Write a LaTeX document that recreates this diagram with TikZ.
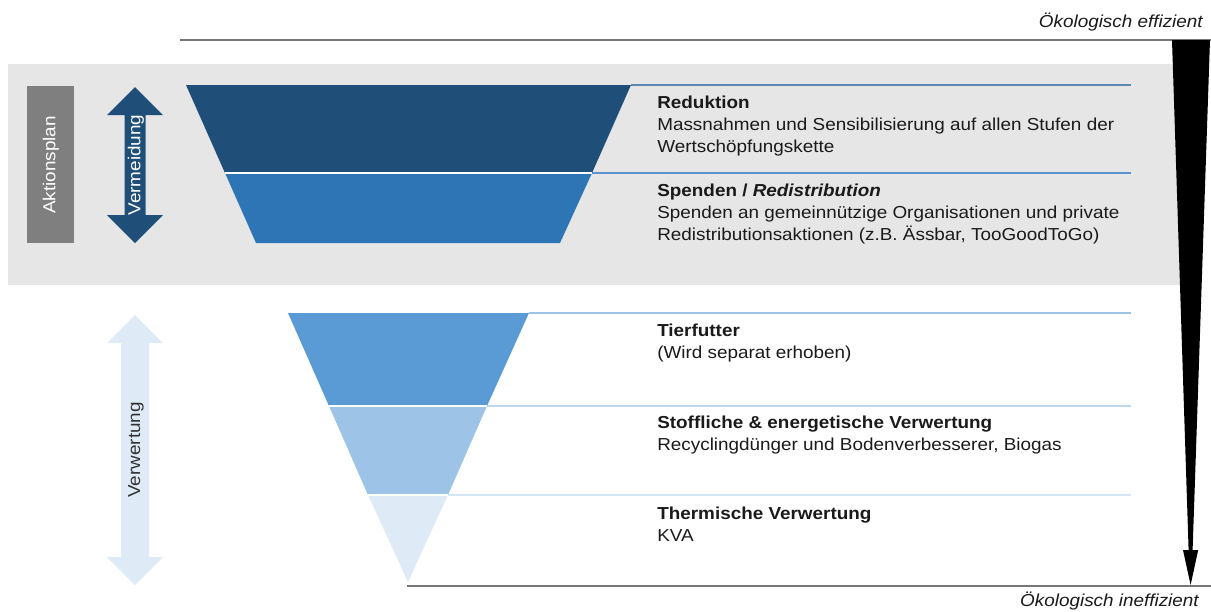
\documentclass[tikz,border=0pt]{standalone}
\usepackage{fontspec}
\setmainfont[FakeStretch=1.09]{Liberation Sans}
\definecolor{bgGray}{HTML}{E6E6E6}
\definecolor{boxGray}{HTML}{7F7F7F}
\definecolor{lineGray}{HTML}{767676}
\definecolor{bDark}{HTML}{1F4E79}
\definecolor{bMid}{HTML}{2E75B6}
\definecolor{bLight}{HTML}{5B9BD5}
\definecolor{bPale}{HTML}{9DC3E6}
\definecolor{bVery}{HTML}{DEEBF7}
\definecolor{lRed}{HTML}{5F88B0}
\definecolor{lSpe}{HTML}{5B93CC}
\definecolor{lTie}{HTML}{9DC3E6}
\definecolor{lSto}{HTML}{BDD7EE}
\definecolor{lThe}{HTML}{D6E6F5}
\definecolor{txt}{HTML}{1A1A1A}
\begin{document}
\begin{tikzpicture}[x=0.75pt,y=-0.75pt,
  txtline/.style={anchor=base west,inner sep=0pt,font=\fontsize{13}{16}\selectfont,text=txt},
  headline/.style={txtline,font=\fontsize{13}{16}\selectfont\bfseries},
  sepline/.style={line width=1.5pt},
  vlabel/.style={rotate=90,inner sep=0pt,font=\fontsize{13}{16}\selectfont}]
\useasboundingbox (0,0) rectangle (1211,611);
% background band
\fill[bgGray] (8,64) rectangle (1190,285);
% top and bottom lines
\draw[lineGray,line width=1.5pt] (180,40) -- (1211,40);
\draw[lineGray,line width=1.5pt] (407,586) -- (1211,586);
\node[anchor=base east,inner sep=0pt,font=\fontsize{13}{16}\selectfont\itshape,text=txt] (eff) at (1203,27) {Ökologisch effizient};
\node[anchor=base east,inner sep=0pt,font=\fontsize{13}{16}\selectfont\itshape,text=txt] (ineff) at (1199,606) {Ökologisch ineffizient};
% separator lines
\draw[sepline,lRed] (631,85) -- (1131,85);
\draw[sepline,lSpe] (592,173) -- (1131,173);
\draw[sepline,lTie] (529,313) -- (1131,313);
\draw[sepline,lSto] (487,406) -- (1131,406);
\draw[sepline,lThe] (448,495) -- (1131,495);
% funnel top
\fill[bDark] (186,85) -- (631,85) -- (592,173) -- (225,173) -- cycle;
\fill[bMid] (225,173) -- (592,173) -- (560,243) -- (256,243) -- cycle;
\draw[white,line width=0.8pt] (225,173) -- (592,173);
% funnel bottom
\fill[bLight] (288,313) -- (529,313) -- (487,406) -- (329,406) -- cycle;
\fill[bPale] (329,406) -- (487,406) -- (448,495) -- (368,495) -- cycle;
\fill[bVery] (368,495) -- (448,495) -- (408,582) -- cycle;
\draw[white,line width=0.8pt] (329,406) -- (487,406);
\draw[white,line width=0.8pt] (368,495) -- (448,495);
% Aktionsplan box
\fill[boxGray] (27,86) rectangle (74,243);
\node[vlabel,text=white] (akt) at (51,165) {Aktionsplan};
% Vermeidung arrow
\fill[bDark] (135,87) -- (163,115) -- (145.5,115) -- (145.5,215) -- (163,215) -- (135,243)
  -- (107,215) -- (124.5,215) -- (124.5,115) -- (107,115) -- cycle;
\node[vlabel,text=white] (verm) at (136,165) {Vermeidung};
% Verwertung arrow
\fill[bVery] (135,315) -- (163,343) -- (149,343) -- (149,557) -- (163,557) -- (135,585)
  -- (107,557) -- (121,557) -- (121,343) -- (107,343) -- cycle;
\node[vlabel,text=black!80] (verw) at (136,450) {Verwertung};
% black wedge arrow
\fill[black] (1172,40) -- (1210,40) -- (1192.6,550) -- (1198.2,550) -- (1190.6,585)
  -- (1183,550) -- (1188.6,550) -- cycle;
% texts
\node[headline] (r1) at (657,108) {Reduktion};
\node[txtline] (r2) at (657,130) {Massnahmen und Sensibilisierung auf allen Stufen der};
\node[txtline] (r3) at (657,152) {Wertschöpfungskette};
\node[headline] (s1) at (657,196) {Spenden / \textit{Redistribution}};
\node[txtline] (s2) at (657,218) {Spenden an gemeinnützige Organisationen und private};
\node[txtline] (s3) at (657,240) {Redistributionsaktionen (z.B. Ässbar, TooGoodToGo)};
\node[headline] (t1) at (657,336) {Tierfutter};
\node[txtline] (t2) at (657,358) {(Wird separat erhoben)};
\node[headline] (e1) at (657,428) {Stoffliche \& energetische Verwertung};
\node[txtline] (e2) at (657,450) {Recyclingdünger und Bodenverbesserer, Biogas};
\node[headline] (h1) at (657,519) {Thermische Verwertung};
\node[txtline] (h2) at (657,541) {KVA};
\end{tikzpicture}
\end{document}
